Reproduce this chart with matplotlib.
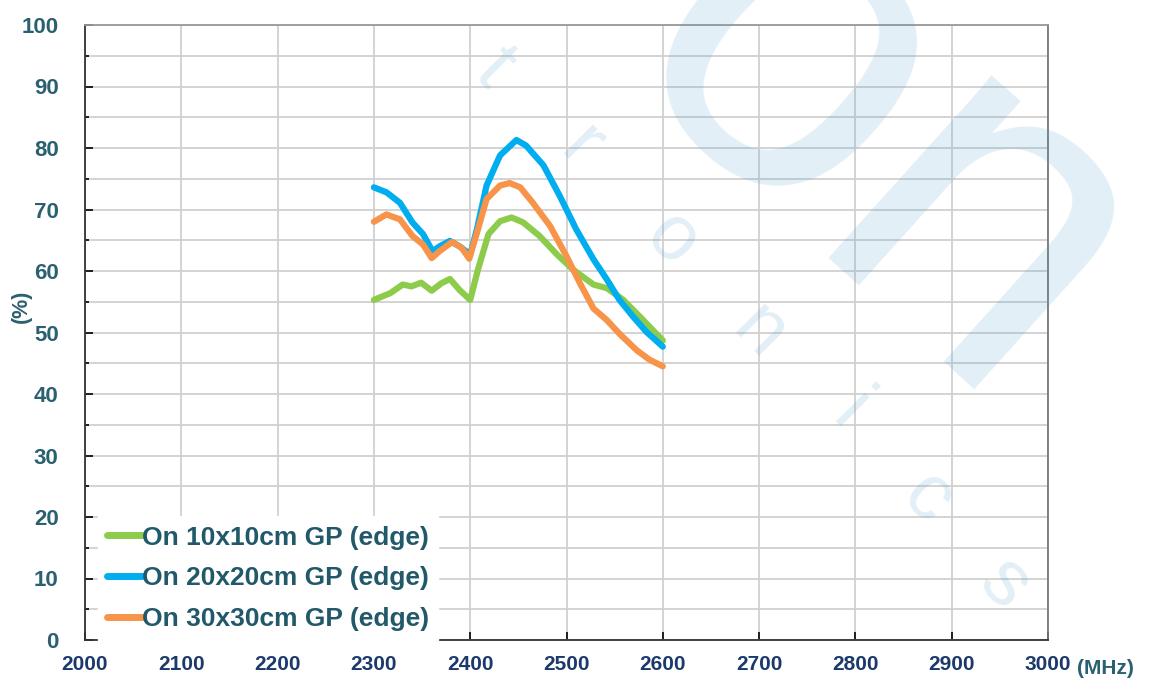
import numpy as np
import matplotlib
matplotlib.use("Agg")
import matplotlib.pyplot as plt
from matplotlib import rcParams

rcParams.update({
    "font.family": ["Liberation Sans", "DejaVu Sans"],
    "font.weight": "bold",
})

# ----------------------------
# Data
# ----------------------------
freq_10 = [2300, 2317, 2330, 2339, 2349, 2360, 2370, 2379, 2389, 2400, 2408, 2419,
           2431, 2443, 2455, 2472, 2490, 2507, 2528, 2542, 2559, 2576, 2600]
gp_10 = [55.3, 56.4, 57.8, 57.5, 58.1, 56.8, 58.0, 58.7, 56.9, 55.3, 60.2, 66.0,
         68.1, 68.7, 67.9, 65.7, 62.7, 60.2, 57.8, 57.2, 55.3, 52.6, 48.7]

freq_20 = [2300, 2313, 2327, 2340, 2351, 2361, 2368, 2379, 2389, 2400, 2407, 2417,
           2431, 2448, 2458, 2476, 2493, 2510, 2528, 2542, 2555, 2569, 2583, 2600]
gp_20 = [73.6, 72.8, 71.1, 67.9, 66.0, 63.2, 64.0, 64.9, 64.0, 62.7, 66.8, 73.9,
         78.8, 81.3, 80.4, 77.2, 72.2, 66.8, 61.9, 58.6, 55.3, 52.6, 50.1, 47.7]

freq_30 = [2300, 2313, 2327, 2340, 2351, 2360, 2368, 2381, 2391, 2399, 2407, 2417,
           2431, 2441, 2452, 2465, 2483, 2500, 2514, 2528, 2542, 2555, 2573, 2586, 2600]
gp_30 = [68.0, 69.2, 68.4, 65.7, 64.3, 62.1, 63.2, 64.7, 63.8, 62.0, 66.2, 71.7,
         73.9, 74.3, 73.6, 71.1, 67.3, 62.4, 58.0, 53.9, 52.0, 49.8, 47.1, 45.6, 44.5]

labels = ["On 10x10cm GP (edge)", "On 20x20cm GP (edge)", "On 30x30cm GP (edge)"]
colors = ["#8DCB4B", "#00AEEF", "#F7944A"]

x_ticks = list(range(2000, 3001, 100))
y_ticks = list(range(0, 101, 10))

watermark = list("tronics")
wm_x = [2425, 2515, 2610, 2700, 2795, 2875, 2955]
wm_y = [93, 80, 65, 50, 37, 23, 9]

# ----------------------------
# Plot
# ----------------------------
fig = plt.figure(figsize=(11.49, 6.82), dpi=100)
ax = fig.add_axes([85 / 1149, 1 - 640 / 682, (1048 - 85) / 1149, (640 - 25) / 682])

for fx, vals, lab, col in zip([freq_10, freq_20, freq_30], [gp_10, gp_20, gp_30], labels, colors):
    ax.plot(fx, vals, color=col, lw=4.5, label=lab, solid_capstyle="round",
            solid_joinstyle="round", zorder=3)

ax.set_xlim(2000, 3000)
ax.set_ylim(0, 100)
ax.set_xticks(x_ticks)
ax.set_yticks(y_ticks)
ax.set_yticks(range(5, 100, 10), minor=True)
ax.grid(True, which="both", color="#d0d0d0", lw=1.3, zorder=1)
ax.set_axisbelow(True)
ax.tick_params(axis="both", which="both", direction="in", length=6, width=1.2)
ax.tick_params(axis="y", which="minor", length=3)
ax.tick_params(axis="x", labelsize=15, labelcolor="#1B3A6B", pad=11)
ax.tick_params(axis="y", labelsize=16, labelcolor="#2A6070", pad=19)
ax.spines["left"].set_color("#333333")
ax.spines["bottom"].set_color("#333333")
ax.spines["top"].set_color("#999999")
ax.spines["right"].set_color("#777777")
for sp in ax.spines.values():
    sp.set_linewidth(1.3)

fig.text(1077 / 1149, 1 - 668 / 682, "(MHz)", fontsize=15,
         color="#2A6070", ha="left", va="center")
fig.text(21 / 1149, 1 - 306 / 682, "(%)", rotation=90, fontsize=15.5,
         color="#2A6070", ha="center", va="center")

leg = ax.legend(loc="lower left", bbox_to_anchor=(13 / 963, 0.0), borderaxespad=0,
                frameon=True, fancybox=False, facecolor="white", edgecolor="white",
                framealpha=1.0, fontsize=19, labelcolor="#21596A", handlelength=1.3,
                handletextpad=0.0, borderpad=0.35, labelspacing=0.63)
for h in leg.get_lines():
    h.set_linewidth(5)
    h.set_solid_capstyle("round")
leg.set_zorder(5)

# faint watermark drawn on top (semi-transparent)
for ch, wx, wy in zip(watermark, wm_x, wm_y):
    ax.text(wx, wy, ch, fontsize=56, fontweight="normal", color="#5aa0d0", alpha=0.17,
            rotation=-45, ha="center", va="center", zorder=6)
fig.text(0.765, 0.765, "on", fontsize=335, color="#5aa0d0", alpha=0.17, rotation=-42,
         ha="center", va="center", zorder=6, fontweight="normal")

fig.savefig("out.png", dpi=100)
